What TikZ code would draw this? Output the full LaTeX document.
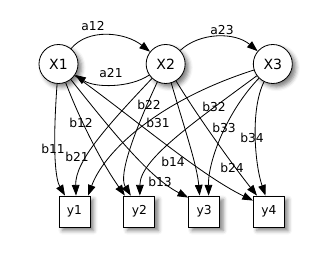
\documentclass[tikz,border=0pt]{standalone}
\usepackage{fontspec}
\setmainfont{DejaVu Sans}
\usetikzlibrary{positioning,arrows.meta,calc,shadows.blur}

\begin{document}
\begin{tikzpicture}[
  x=0.03cm, y=-0.03cm,
  hidden/.style={circle, draw, fill=white, minimum size=1.17cm, inner sep=0pt, line width=0.7pt,
    font=\fontsize{12}{14}\selectfont,
    blur shadow={shadow xshift=3pt, shadow yshift=-3pt, shadow blur radius=3.5pt, shadow opacity=50}},
  observed/.style={rectangle, draw, fill=white, minimum size=0.93cm, inner sep=0pt, line width=0.7pt,
    font=\fontsize{10.5}{12}\selectfont,
    blur shadow={shadow xshift=3pt, shadow yshift=-3pt, shadow blur radius=3.5pt, shadow opacity=50}},
  arrow/.style={-{Triangle[length=3.2mm, width=2.3mm]}, line width=0.7pt},
  prob/.style={font=\fontsize{10.5}{12}\selectfont, inner sep=0pt},
]
\useasboundingbox (0,0) rectangle (330,264);

% === Hidden states ===
\node[hidden] (X1) at (58.5,64) {X1};
\node[hidden, right=2.02cm of X1] (X2) {X2};
\node[hidden, right=2.02cm of X2] (X3) {X3};

% === Observations ===
\node[observed] (y1) at (74.5,211.5) {y1};
\node[observed, right=0.99cm of y1] (y2) {y2};
\node[observed, right=0.99cm of y2] (y3) {y3};
\node[observed, right=0.99cm of y3] (y4) {y4};

% === Transitions ===
\draw[arrow] (X1) .. controls (88,28) and (125,32) .. (X2);
\draw[arrow] (X2) .. controls (130,88) and (95,88) .. (X1);
\draw[arrow] (X2) .. controls (200,32) and (235,32) .. (X3);
\node[prob] (la12) at (93,26) {a12};
\node[prob] (la21) at (111,73) {a21};
\node[prob] (la23) at (222,30) {a23};

% === Emissions from X1 ===
\draw[arrow] (X1) .. controls (52,155) and (56,180) .. ($(y1.north)+(-9.5,0)$);
\draw[arrow] (X1) .. controls (80,120) and (100,160) .. ($(y2.north)+(-14.5,0)$);
\draw[arrow] (X1) .. controls (115,135) and (150,178) .. ($(y3.north west)+(0,2)$);
\draw[arrow] (X1) .. controls (130,115) and (200,175) .. ($(y4.north west)+(0,5)$);

% === Emissions from X2 ===
\draw[arrow] (X2) .. controls (105,128) and (75,162) .. ($(y1.north)+(1.5,0)$);
\draw[arrow] (X2) .. controls (135,130) and (118,175) .. ($(y2.north)+(-8.5,0)$);
\draw[arrow] (X2) .. controls (185,130) and (197,165) .. ($(y3.north)+(-4.5,0)$);
\draw[arrow] (X2) .. controls (200,120) and (235,168) .. ($(y4.north)+(-12,0)$);

% === Emissions from X3 ===
\draw[arrow] (X3) .. controls (160,100) and (105,150) .. ($(y1.north)+(13.5,0)$);
\draw[arrow] (X3) .. controls (190,125) and (140,160) .. ($(y2.north)+(0.5,0)$);
\draw[arrow] (X3) .. controls (228,110) and (208,160) .. ($(y3.north)+(4.5,0)$);
\draw[arrow] (X3) .. controls (250,110) and (255,165) .. ($(y4.north)+(-3.5,0)$);

% === Emission labels ===
\node[prob] (lb11) at (53,149) {b11};
\node[prob] (lb21) at (77,157) {b21};
\node[prob] (lb12) at (81,123) {b12};
\node[prob] (lb22) at (149,105) {b22};
\node[prob] (lb31) at (158,123) {b31};
\node[prob] (lb32) at (214,107) {b32};
\node[prob] (lb33) at (224,128) {b33};
\node[prob] (lb34) at (252,138) {b34};
\node[prob] (lb14) at (173,162) {b14};
\node[prob] (lb24) at (232,168) {b24};
\node[prob] (lb13) at (160,182) {b13};

\end{tikzpicture}
\end{document}
